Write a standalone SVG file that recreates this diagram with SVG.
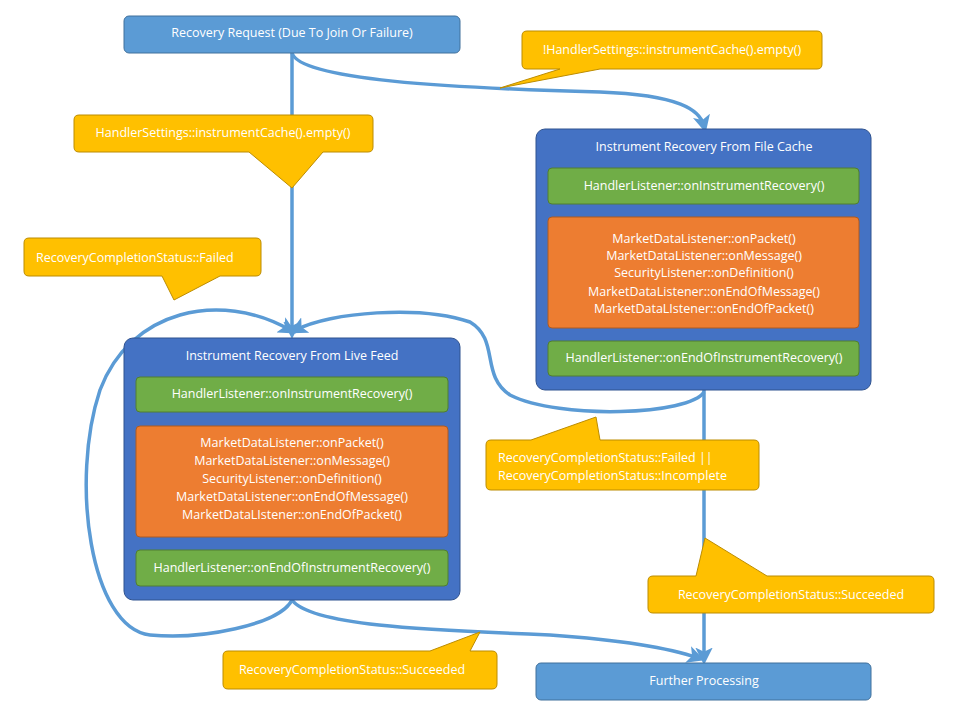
<svg xmlns="http://www.w3.org/2000/svg" width="960" height="720" viewBox="0 0 960 720">
<style>
.t{font-family:"Open Sans","Liberation Sans",sans-serif;font-size:12.5px;fill:#fff;text-anchor:middle}
.tl{font-family:"Open Sans","Liberation Sans",sans-serif;font-size:12.5px;fill:#fff}
.lb{fill:#5b9bd5;stroke:#41719c;stroke-width:1}
.db{fill:#4472c4;stroke:#2f528f;stroke-width:1}
.g{fill:#70ad47;stroke:#507e32;stroke-width:1}
.o{fill:#ed7d31;stroke:#ae5a21;stroke-width:1}
.c{fill:#ffc000;stroke:#bc8c00;stroke-width:1}
.e{fill:none;stroke:#5b9bd5;stroke-width:3.5}
</style>
<defs><marker id="a" markerWidth="5" markerHeight="5" refX="3" refY="2.5" orient="auto"><path d="M0,0L5,2.5L0,5L1.2,2.5Z" fill="#5b9bd5"/></marker></defs>
<g id="connectors">
<path class="e" d="M292,53 L292,332" marker-end="url(#a)"/>
<path class="e" d="M292,53 C300,80 450,88 600,92 C680,95 700,110 704,126" marker-end="url(#a)"/>
<path class="e" d="M704,390 L704,658" marker-end="url(#a)"/>
<path class="e" d="M704,392 C690,415 560,420 510,395 C480,375 500,340 470,322 C420,305 330,312 296,330" marker-end="url(#a)"/>
<path class="e" d="M292,600 C280,625 200,640 150,635 C90,628 70,480 100,390 C130,310 220,290 290,330" marker-end="url(#a)"/>
<path class="e" d="M292,600 C310,625 420,630 550,635 C620,640 670,648 698,658" marker-end="url(#a)"/>
</g>
<g id="n-request"><rect class="lb" x="124" y="16" width="336" height="37" rx="5"/><text class="t" x="292" y="37">Recovery Request (Due To Join Or Failure)</text></g>
<g id="n-filecache">
<rect class="db" x="536" y="129" width="335" height="261" rx="9"/>
<text class="t" x="704" y="151">Instrument Recovery From File Cache</text>
<rect class="g" x="548" y="168" width="311" height="36" rx="4"/>
<text class="t" x="704" y="190">HandlerListener::onInstrumentRecovery()</text>
<rect class="o" x="548" y="217" width="311" height="111" rx="4"/>
<text class="t" x="704" y="243">MarketDataListener::onPacket()</text>
<text class="t" x="704" y="260">MarketDataListener::onMessage()</text>
<text class="t" x="704" y="277">SecurityListener::onDefinition()</text>
<text class="t" x="704" y="296">MarketDataListener::onEndOfMessage()</text>
<text class="t" x="704" y="313">MarketDataLIstener::onEndOfPacket()</text>
<rect class="g" x="548" y="341" width="311" height="35" rx="4"/>
<text class="t" x="704" y="362">HandlerListener::onEndOfInstrumentRecovery()</text>
</g>
<g id="n-livefeed">
<rect class="db" x="124" y="338" width="336" height="262" rx="9"/>
<text class="t" x="292" y="360">Instrument Recovery From Live Feed</text>
<rect class="g" x="136" y="377" width="312" height="35" rx="4"/>
<text class="t" x="292" y="398">HandlerListener::onInstrumentRecovery()</text>
<rect class="o" x="136" y="426" width="312" height="111" rx="4"/>
<text class="t" x="292" y="447">MarketDataListener::onPacket()</text>
<text class="t" x="292" y="465">MarketDataListener::onMessage()</text>
<text class="t" x="292" y="483">SecurityListener::onDefinition()</text>
<text class="t" x="292" y="501">MarketDataListener::onEndOfMessage()</text>
<text class="t" x="292" y="519">MarketDataLIstener::onEndOfPacket()</text>
<rect class="g" x="136" y="550" width="312" height="36" rx="4"/>
<text class="t" x="292" y="572">HandlerListener::onEndOfInstrumentRecovery()</text>
</g>
<g id="n-further"><rect class="lb" x="536" y="663" width="335" height="37" rx="5"/><text class="t" x="704" y="685">Further Processing</text></g>
<g id="c1"><path class="c" d="M527,31 H817 Q822,31 822,36 V64 Q822,69 817,69 H600 L500,88 L560,69 H527 Q522,69 522,64 V36 Q522,31 527,31 Z"/><text class="t" x="672" y="54">!HandlerSettings::instrumentCache().empty()</text></g>
<g id="c2"><path class="c" d="M79,115 H368 Q373,115 373,120 V147 Q373,152 368,152 H323 L292,188 L249,152 H79 Q74,152 74,147 V120 Q74,115 79,115 Z"/><text class="t" x="223" y="137">HandlerSettings::instrumentCache().empty()</text></g>
<g id="c3"><path class="c" d="M29,238 H256 Q261,238 261,243 V271 Q261,276 256,276 H220 L174,300 L162,276 H29 Q24,276 24,271 V243 Q24,238 29,238 Z"/><text class="tl" x="36" y="262">RecoveryCompletionStatus::Failed</text></g>
<g id="c4"><path class="c" d="M491,440 H531 L596,417 L600,440 H754 Q759,440 759,445 V485 Q759,490 754,490 H491 Q486,490 486,485 V445 Q486,440 491,440 Z"/><text class="tl" x="498" y="462">RecoveryCompletionStatus::Failed ||</text><text class="tl" x="498" y="480">RecoveryCompletionStatus::Incomplete</text></g>
<g id="c5"><path class="c" d="M653,576 H696 L705,538 L767,576 H929 Q934,576 934,581 V608 Q934,613 929,613 H653 Q648,613 648,608 V581 Q648,576 653,576 Z"/><text class="t" x="791" y="599">RecoveryCompletionStatus::Succeeded</text></g>
<g id="c6"><path class="c" d="M228,651 H430 L480,632 L470,651 H492 Q497,651 497,656 V684 Q497,689 492,689 H228 Q223,689 223,684 V656 Q223,651 228,651 Z"/><text class="t" x="352" y="674">RecoveryCompletionStatus::Succeeded</text></g>
</svg>
